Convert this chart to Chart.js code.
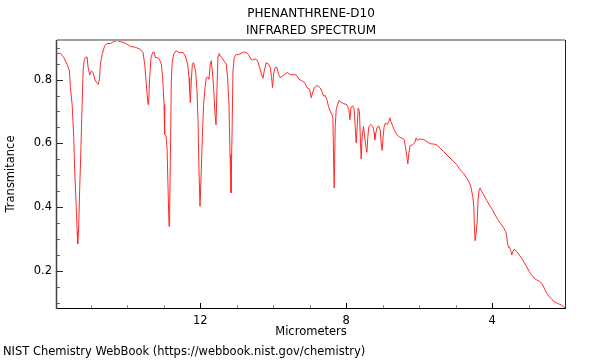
<!DOCTYPE html>
<html><head><meta charset="utf-8">
<script src="https://cdn.jsdelivr.net/npm/chart.js@4"></script>
<style>html,body{margin:0;padding:0;background:#fff}</style>
</head><body>
<canvas id="c" width="600" height="360"></canvas>
<script>
const micrometers = [15.926,15.836,15.745,15.652,15.589,15.562,15.515,15.471,15.444,15.405,15.378,15.362,15.334,15.307,15.279,15.241,15.214,15.186,15.151,15.104,15.077,15.033,14.986,14.940,14.896,14.849,14.803,14.767,14.740,14.693,14.622,14.556,14.466,14.375,14.282,14.192,14.101,14.008,13.918,13.781,13.644,13.570,13.526,13.488,13.460,13.433,13.416,13.389,13.351,13.307,13.260,13.233,13.186,13.123,13.068,13.033,12.995,12.978,12.940,12.912,12.885,12.858,12.841,12.814,12.795,12.775,12.732,12.666,12.595,
12.548,12.474,12.411,12.348,12.310,12.293,12.274,12.247,12.219,12.184,12.156,12.129,12.090,12.063,12.036,12.008,11.981,11.945,11.910,11.871,11.836,11.800,11.762,11.726,11.699,11.671,11.636,11.597,11.570,11.542,11.515,11.488,11.452,11.397,11.342,11.288,11.252,11.214,11.186,11.159,11.132,11.104,11.068,11.014,10.951,10.885,10.814,10.740,10.677,10.611,10.556,10.493,10.430,10.375,10.321,10.282,10.247,10.192,10.129,10.082,10.047,10.019,9.992,9.945,9.899,9.855,9.808,9.734,9.663,9.608,9.534,9.444,9.370,9.296,9.214,9.142,9.077,9.005,
8.959,8.923,8.877,8.803,8.759,8.712,8.666,8.622,8.575,8.529,8.485,8.438,8.392,8.364,8.348,8.329,8.301,8.274,8.238,8.192,8.145,8.074,7.981,7.926,7.899,7.871,7.827,7.781,7.753,7.726,7.699,7.671,7.636,7.608,7.589,7.562,7.526,7.499,7.460,7.433,7.405,7.378,7.323,7.268,7.233,7.214,7.186,7.159,7.115,7.068,7.041,7.014,6.986,6.959,6.923,6.868,6.830,6.803,6.775,6.740,6.685,6.611,6.540,6.474,6.411,6.375,6.337,6.310,6.282,6.247,6.173,6.118,6.082,6.047,6.000,
5.882,5.789,5.699,5.608,5.515,5.425,5.334,5.241,5.151,5.060,4.967,4.877,4.786,4.693,4.622,4.575,4.529,4.501,4.485,4.466,4.438,4.411,4.384,4.356,4.329,4.282,4.219,4.145,4.074,4.000,3.918,3.844,3.762,3.690,3.625,3.597,3.570,3.542,3.526,3.488,3.460,3.433,3.389,3.323,3.252,3.186,3.115,3.049,2.978,2.912,2.841,2.775,2.704,2.638,2.567,2.501,2.430,2.364,2.301,2.227,2.156,2.090,2.027,2.000];

const transmittance = [0.882,0.882,0.869,0.848,0.827,0.775,0.722,0.618,0.513,0.408,0.325,0.285,0.345,0.461,0.565,0.722,0.827,0.859,0.869,0.871,0.838,0.815,0.827,0.822,0.801,0.791,0.785,0.801,0.848,0.879,0.906,0.913,0.913,0.919,0.922,0.919,0.916,0.911,0.904,0.901,0.895,0.885,0.848,0.796,0.754,0.722,0.733,0.806,0.869,0.885,0.885,0.869,0.869,0.864,0.848,0.806,0.722,0.628,0.623,0.586,0.461,0.340,0.387,0.618,0.796,0.848,0.879,0.890,0.885,
0.885,0.885,0.874,0.848,0.806,0.764,0.728,0.796,0.848,0.853,0.838,0.827,0.764,0.670,0.513,0.403,0.492,0.618,0.722,0.775,0.806,0.808,0.801,0.848,0.859,0.827,0.775,0.691,0.658,0.775,0.874,0.882,0.874,0.867,0.857,0.848,0.806,0.722,0.565,0.445,0.618,0.827,0.869,0.879,0.878,0.882,0.886,0.885,0.878,0.864,0.861,0.865,0.859,0.838,0.817,0.804,0.827,0.853,0.848,0.838,0.806,0.775,0.817,0.838,0.838,0.817,0.806,0.812,0.819,0.822,0.815,0.815,0.815,0.801,0.796,0.791,0.775,0.770,
0.743,0.758,0.774,0.781,0.779,0.774,0.763,0.748,0.750,0.737,0.716,0.700,0.690,0.680,0.570,0.460,0.653,0.706,0.721,0.735,0.729,0.725,0.721,0.706,0.674,0.711,0.718,0.706,0.653,0.601,0.653,0.711,0.700,0.601,0.551,0.622,0.653,0.627,0.590,0.572,0.622,0.653,0.659,0.653,0.633,0.612,0.633,0.648,0.655,0.643,0.601,0.578,0.622,0.653,0.664,0.659,0.669,0.680,0.669,0.659,0.643,0.627,0.620,0.617,0.612,0.590,0.559,0.536,0.570,0.593,0.596,0.603,0.617,0.609,0.614,
0.612,0.606,0.599,0.598,0.595,0.585,0.575,0.564,0.554,0.543,0.533,0.517,0.507,0.491,0.477,0.460,0.433,0.402,0.339,0.295,0.318,0.350,0.423,0.454,0.460,0.449,0.436,0.421,0.407,0.394,0.376,0.362,0.348,0.337,0.323,0.308,0.282,0.274,0.276,0.264,0.250,0.261,0.268,0.261,0.250,0.240,0.226,0.213,0.198,0.187,0.177,0.172,0.168,0.161,0.146,0.130,0.119,0.111,0.104,0.100,0.096,0.093,0.086,0.084];

const xTickLabels = [4, 8, 12];
const yTickLabels = [0.2, 0.4, 0.6, 0.8];
const xRange = [2.0, 15.93];
const yRange = [0.084, 0.924];
const titleLines = ['PHENANTHRENE-D10', 'INFRARED SPECTRUM'];
const xTitle = 'Micrometers';
const yTitle = 'Transmitance';
const footer = 'NIST Chemistry WebBook (https://webbook.nist.gov/chemistry)';

const FONT = 'DejaVu Sans';
const SMALL = 11.5;

const framePlugin = {
  id: 'frame',
  afterDatasetsDraw(chart) {
    const {ctx, chartArea: a, scales: {x, y}} = chart;
    ctx.save();
    const seg = (x1, y1, x2, y2, color, w) => {
      ctx.beginPath(); ctx.strokeStyle = color; ctx.lineWidth = w;
      ctx.moveTo(x1, y1); ctx.lineTo(x2, y2); ctx.stroke();
    };
    for (let v = Math.ceil(xRange[0]); v <= xRange[1]; v++) {
      const p = Math.round(x.getPixelForValue(v)) + 0.5;
      const major = xTickLabels.includes(v);
      seg(p, a.bottom, p, a.bottom - (major ? 5 : 3), major ? '#000' : '#888', 1);
    }
    for (let k = 2; k <= 18; k++) {
      const v = k * 0.05;
      if (v < yRange[0] || v > yRange[1]) continue;
      const p = Math.round(y.getPixelForValue(v)) + 0.5;
      const major = (k % 4 === 0);
      seg(a.left, p, a.left + (major ? 6 : 3), p, major ? '#222' : '#666', 1);
    }
    seg(a.left, a.top, a.right, a.top, '#a0a0a0', 2);
    seg(a.right + 0.5, a.top, a.right + 0.5, a.bottom, '#222', 1);
    seg(a.left, a.bottom + 0.5, a.right + 1, a.bottom + 0.5, '#000', 1);
    seg(a.left - 0.5, a.top, a.left - 0.5, a.bottom + 1, '#444', 1.5);
    ctx.restore();
  },
  afterDraw(chart) {
    const ctx = chart.ctx;
    ctx.save();
    ctx.font = SMALL + 'px "' + FONT + '"';
    ctx.fillStyle = '#000';
    ctx.textBaseline = 'middle';
    ctx.textAlign = 'left';
    ctx.fillText(footer, 3, 352);
    ctx.restore();
  }
};

new Chart(document.getElementById('c'), {
  type: 'line',
  data: {
    datasets: [{
      data: micrometers.map((m, i) => ({x: m, y: transmittance[i]})),
      borderColor: '#ff2a2a',
      borderWidth: 1,
      pointRadius: 0,
      tension: 0,
      fill: false
    }]
  },
  options: {
    responsive: false,
    animation: false,
    devicePixelRatio: 1,
    layout: {padding: {left: 0, right: 35, top: 0, bottom: 0}},
    plugins: {
      legend: {display: false},
      tooltip: {enabled: false},
      title: {
        display: true, text: titleLines, fullSize: false, color: '#000',
        font: {family: FONT, size: 12, weight: 'normal', lineHeight: 17 / 12},
        padding: {top: 5, bottom: 1}
      }
    },
    scales: {
      x: {
        type: 'linear', reverse: true, min: xRange[0], max: xRange[1],
        afterBuildTicks: s => { s.ticks = xTickLabels.map(v => ({value: v})); },
        afterFit: s => { s.height = 52; },
        grid: {display: false, drawTicks: false},
        border: {display: false},
        ticks: {color: '#000', font: {family: FONT, size: SMALL}, padding: 6, maxRotation: 0, autoSkip: false,
          callback: v => String(v)},
        title: {display: true, text: xTitle, color: '#000', font: {family: FONT, size: SMALL}, padding: {top: 0, bottom: 21}}
      },
      y: {
        type: 'linear', min: yRange[0], max: yRange[1],
        afterBuildTicks: s => { s.ticks = yTickLabels.map(v => ({value: v})); },
        afterFit: s => { s.width = 57; },
        grid: {display: false, drawTicks: false},
        border: {display: false},
        ticks: {color: '#000', font: {family: FONT, size: SMALL}, padding: 5, callback: v => v.toFixed(1)},
        title: {display: true, text: yTitle, color: '#000', font: {family: FONT, size: SMALL}, padding: {top: 4, bottom: 0}}
      }
    }
  },
  plugins: [framePlugin]
});
</script>
</body></html>
